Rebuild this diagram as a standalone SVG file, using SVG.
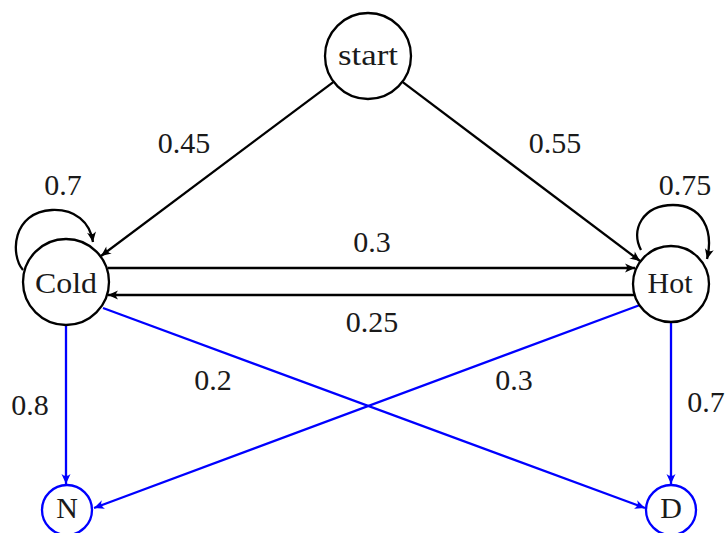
<svg xmlns="http://www.w3.org/2000/svg" width="727" height="533" viewBox="0 0 727 533">
<defs>
<marker id="ab" markerUnits="userSpaceOnUse" markerWidth="14" markerHeight="12" viewBox="-11 -6 13 12" refX="0" refY="0" orient="auto">
<path d="M0,0 L-10,-4.5 Q-6,0 -10,4.5 Z" fill="#000"/>
</marker>
<marker id="au" markerUnits="userSpaceOnUse" markerWidth="14" markerHeight="12" viewBox="-11 -6 13 12" refX="0" refY="0" orient="auto">
<path d="M0,0 L-10,-4.5 Q-6,0 -10,4.5 Z" fill="#0000ff"/>
</marker>
</defs>
<style>
.n{fill:#fff;stroke:#000;stroke-width:2.3}
.nb{fill:#fff;stroke:#0000ff;stroke-width:2.3}
.t{font-family:'Liberation Serif','DejaVu Serif',serif;font-size:30px;fill:#1a1a1a;text-anchor:middle}
.e{fill:none;stroke:#000;stroke-width:2.3;marker-end:url(#ab)}
.eb{fill:none;stroke:#0000ff;stroke-width:2.3;marker-end:url(#au)}
</style>
<rect width="727" height="533" fill="#fff"/>
<g id="connectors">
<path class="e" d="M333.6,81.8 L101,256"/>
<path class="e" d="M402.4,81.9 L640,261"/>
<path class="e" d="M108,268 L635,268"/>
<path class="e" d="M634,295 L108,295"/>
<path class="e" d="M23,270 C10,255 12,212 52,210 C75,209 90,222 93,242"/>
<path class="e" d="M641,250 C630,230 643,205 673,205 C702,205 714,230 707,259"/>
<path class="eb" d="M66,325 L66,484"/>
<path class="eb" d="M671,322 L671,484"/>
<path class="eb" d="M103,308 L645,508"/>
<path class="eb" d="M640,305 L94,508"/>
<text class="t" x="184" y="153" font-family="Liberation Serif, serif">0.45</text>
<text class="t" x="555" y="153" font-family="Liberation Serif, serif">0.55</text>
<text class="t" x="63" y="195" font-family="Liberation Serif, serif">0.7</text>
<text class="t" x="685" y="195" font-family="Liberation Serif, serif">0.75</text>
<text class="t" x="372" y="252" font-family="Liberation Serif, serif">0.3</text>
<text class="t" x="372" y="332" font-family="Liberation Serif, serif">0.25</text>
<text class="t" x="30" y="415" font-family="Liberation Serif, serif">0.8</text>
<text class="t" x="213" y="390" font-family="Liberation Serif, serif">0.2</text>
<text class="t" x="514" y="390" font-family="Liberation Serif, serif">0.3</text>
<text class="t" x="706" y="412" font-family="Liberation Serif, serif">0.7</text>
</g>
<g id="start"><circle class="n" cx="368" cy="56" r="43"/><text class="t" x="368" y="65" textLength="60" lengthAdjust="spacingAndGlyphs">start</text></g>
<g id="cold"><circle class="n" cx="66" cy="282" r="43"/><text class="t" x="66" y="293" textLength="62" lengthAdjust="spacingAndGlyphs">Cold</text></g>
<g id="hot"><circle class="n" cx="671" cy="284" r="38"/><text class="t" x="670" y="293">Hot</text></g>
<g id="N"><circle class="nb" cx="67" cy="510" r="25"/><text class="t" x="67" y="518">N</text></g>
<g id="D"><circle class="nb" cx="671" cy="510" r="25"/><text class="t" x="671" y="518">D</text></g>
</svg>
